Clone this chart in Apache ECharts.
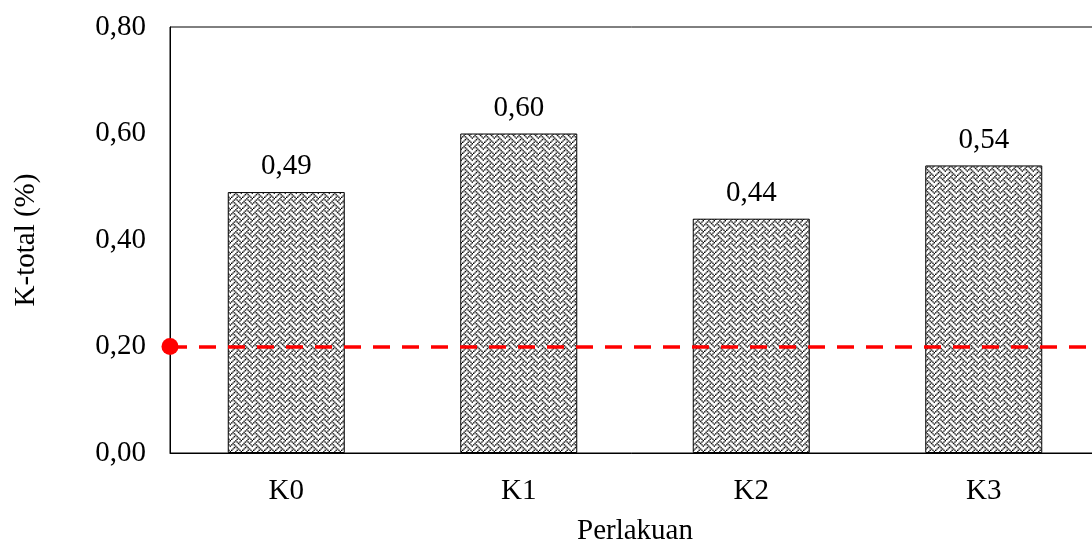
<!DOCTYPE html>
<html>
<head>
<meta charset="utf-8">
<script src="https://cdn.jsdelivr.net/npm/echarts@6/dist/echarts.min.js"></script>
<style>
  html, body { margin: 0; padding: 0; background: #fff; }
  #chart { width: 1092px; height: 540px; }
</style>
</head>
<body>
<div id="chart"></div>
<script>
// Treatments and measured total potassium (%)
const categories = ['K0', 'K1', 'K2', 'K3'];
const kTotal = [0.49, 0.60, 0.44, 0.54];
// Reference threshold drawn as a dashed line
const thresholdValue = 0.20;
const yTicks = { min: 0, max: 0.8, interval: 0.2 };

// 8x8 weave fill bitmap (one byte per row, high bit = left pixel)
const weaveRows = [0x11, 0x2a, 0x44, 0xa2, 0x11, 0x28, 0x44, 0x8a];

function makeWeaveTile() {
  const base = document.createElement('canvas');
  base.width = 8; base.height = 8;
  const b = base.getContext('2d');
  b.fillStyle = '#fff';
  b.fillRect(0, 0, 8, 8);
  b.fillStyle = '#000';
  weaveRows.forEach((row, y) => {
    for (let x = 0; x < 8; x++) {
      if (row & (0x80 >> x)) b.fillRect(x, y, 1, 1);
    }
  });
  // upscale a little so the weave reads at chart size
  const size = 11;
  const c = document.createElement('canvas');
  c.width = size; c.height = size;
  const ctx = c.getContext('2d');
  ctx.imageSmoothingEnabled = true;
  ctx.drawImage(base, 0, 0, size, size);
  return c;
}

const fmt = v => v.toFixed(2).replace('.', ',');
const serif = '"Liberation Serif", "Times New Roman", serif';

const chart = echarts.init(document.getElementById('chart'));
chart.setOption({
  animation: false,
  backgroundColor: '#fff',
  grid: {
    left: 170, top: 27, right: -8, bottom: 87,
    outerBoundsMode: 'none',
    containLabel: false,
    show: true, borderColor: '#000', borderWidth: 1, backgroundColor: 'transparent'
  },
  xAxis: {
    type: 'category',
    data: categories,
    name: 'Perlakuan',
    nameLocation: 'middle',
    nameGap: 64,
    nameTextStyle: { fontFamily: serif, fontSize: 29, color: '#000' },
    axisLine: { lineStyle: { color: '#000', width: 1 } },
    axisTick: { show: false },
    axisLabel: { fontFamily: serif, fontSize: 29, color: '#000', margin: 24 }
  },
  yAxis: {
    type: 'value',
    min: yTicks.min, max: yTicks.max, interval: yTicks.interval,
    name: 'K-total (%)',
    nameLocation: 'middle',
    nameGap: 129,
    nameTextStyle: { fontFamily: serif, fontSize: 29, color: '#000' },
    axisLine: { show: true, lineStyle: { color: '#000', width: 1 } },
    axisTick: { show: false },
    splitLine: { show: false },
    axisLabel: { fontFamily: serif, fontSize: 29, color: '#000', margin: 24, formatter: fmt }
  },
  series: [{
    type: 'bar',
    data: kTotal,
    barWidth: 117,
    itemStyle: {
      color: { image: makeWeaveTile(), repeat: 'repeat' },
      borderColor: '#000',
      borderWidth: 1
    },
    label: {
      show: true, position: 'top', distance: 11,
      fontFamily: serif, fontSize: 29, color: '#000',
      formatter: p => fmt(p.value)
    },
    markLine: {
      silent: true,
      symbol: ['circle', 'none'],
      symbolSize: 17,
      label: { show: false },
      lineStyle: { color: '#ff0000', type: [17, 12], width: 3.5 },
      itemStyle: { color: '#ff0000', borderColor: 'rgba(230,220,200,0.8)', borderWidth: 2 },
      data: [{ yAxis: thresholdValue }]
    }
  }]
});
</script>
</body>
</html>
